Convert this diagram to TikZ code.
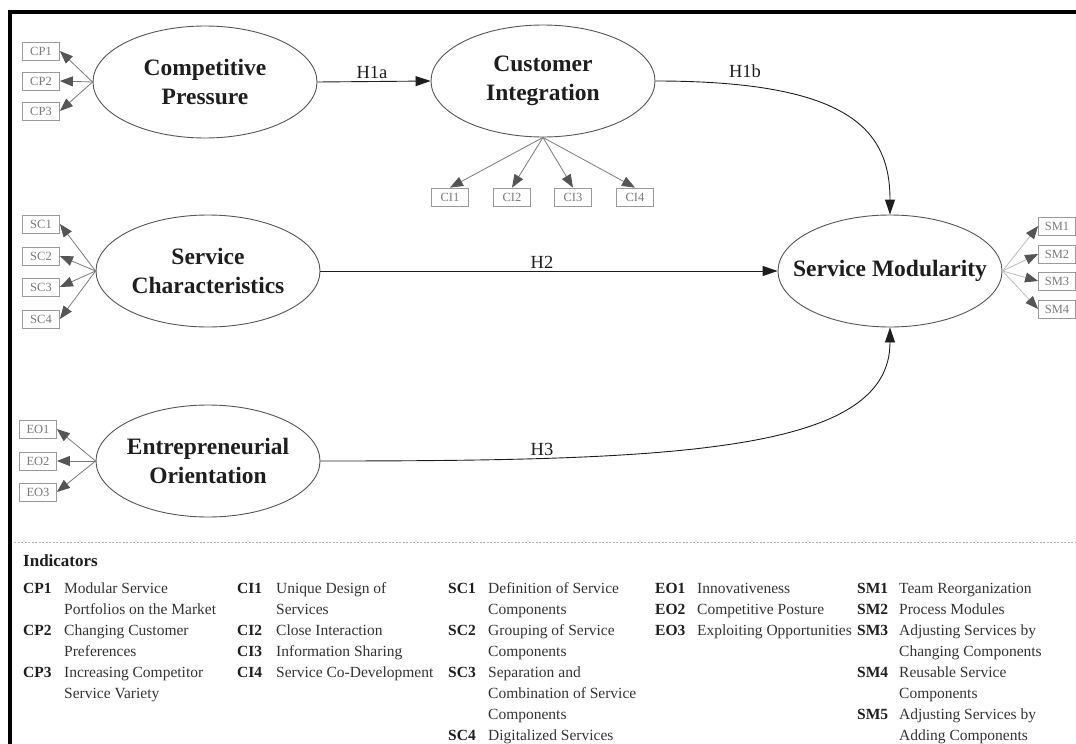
\documentclass[tikz,border=0pt]{standalone}
\usepackage{fontspec}
\setmainfont{Liberation Serif}
\usetikzlibrary{shapes.geometric,arrows.meta}
\definecolor{ink}{HTML}{1E1E1E}
\definecolor{desc}{HTML}{333333}
\definecolor{ellgray}{HTML}{555555}
\definecolor{boxgray}{HTML}{9A9A9A}
\definecolor{boxtext}{HTML}{7A7A7A}
\definecolor{loadgray}{HTML}{7A7A7A}
\definecolor{loadlight}{HTML}{BBBBBB}
\definecolor{tipgray}{HTML}{555555}
\definecolor{sepgray}{HTML}{B0B0B0}
\begin{document}
\begin{tikzpicture}[x=1pt,y=-1pt,
  latent/.style={draw=ellgray, line width=0.9pt, ellipse, minimum width=224pt, minimum height=112pt, inner sep=0pt},
  latlab/.style={font=\fontsize{23.5}{29}\selectfont\bfseries, text=ink, align=center, inner sep=0pt},
  indbox/.style={draw=boxgray, line width=0.8pt, minimum width=37pt, minimum height=18pt, inner sep=0pt, font=\fontsize{12.5}{13}\selectfont, text=boxtext},
  load/.style={draw=loadgray, line width=0.8pt, -{Triangle[length=13pt,width=10pt,color=tipgray]}},
  loadsm/.style={load, draw=loadlight},
  hyp/.style={draw=ink, line width=0.9pt, -{Triangle[length=15pt,width=10pt]}},
  hyplab/.style={font=\fontsize{18.5}{20}\selectfont, text=ink, inner sep=0pt},
  keytxt/.style={anchor=base west, inner sep=0pt, font=\fontsize{15.5}{21}\selectfont\bfseries, text=ink},
  desctxt/.style={anchor=base west, inner sep=0pt, font=\fontsize{15.5}{21}\selectfont, text=desc},
  sepline/.style={draw=sepgray, line width=0.8pt, dash pattern=on 2pt off 1.5pt}
]
\useasboundingbox (0,0) rectangle (1076,744);

% frame
\draw[line width=4pt] (9.5,744) -- (9.5,12) -- (1076,12);

% latent constructs
\node[latent] (CP) at (205,82) {};
\node[latlab] (CPt) at (CP) {Competitive\\Pressure};
\node[latent] (CI) at (543,81) {};
\node[latlab] (CIt) at (CI) {Customer\\Integration};
\node[latent] (SC) at (208,271) {};
\node[latlab] (SCt) at (SC) {Service\\Characteristics};
\node[latent] (EO) at (208,461) {};
\node[latlab] (EOt) at (EO) {Entrepreneurial\\Orientation};
\node[latent] (SM) at (890,271) {};
\node[latlab] (SMt) at (SM) {Service Modularity};

% indicator boxes
\node[indbox] (cp1) at (41,51) {CP1};
\node[indbox] (cp2) at (41,81) {CP2};
\node[indbox] (cp3) at (41,111) {CP3};
\node[indbox] (ci1) at (450,197) {CI1};
\node[indbox] (ci2) at (512,197) {CI2};
\node[indbox] (ci3) at (573,197) {CI3};
\node[indbox] (ci4) at (635,197) {CI4};
\node[indbox] (sc1) at (41,224) {SC1};
\node[indbox] (sc2) at (41,256) {SC2};
\node[indbox] (sc3) at (41,287) {SC3};
\node[indbox] (sc4) at (41,319) {SC4};
\node[indbox] (eo1) at (38,429) {EO1};
\node[indbox] (eo2) at (38,461) {EO2};
\node[indbox] (eo3) at (38,492) {EO3};
\node[indbox] (sm1) at (1057,226) {SM1};
\node[indbox] (sm2) at (1057,254) {SM2};
\node[indbox] (sm3) at (1057,281) {SM3};
\node[indbox] (sm4) at (1057,309) {SM4};

% loadings
\foreach \b in {cp1,cp2,cp3} \draw[load] (CP.west) -- (\b.east);
\foreach \b in {sc1,sc2,sc3,sc4} \draw[load] (SC.west) -- (\b.east);
\foreach \b in {eo1,eo2,eo3} \draw[load] (EO.west) -- (\b.east);
\foreach \b in {ci1,ci2,ci3,ci4} \draw[load] (CI.south) -- (\b.north);
\foreach \b in {sm1,sm2,sm3,sm4} \draw[loadsm] (SM.east) -- (\b.west);

% hypotheses
\draw[hyp] (CP.east) -- (CI.west);
\draw[hyp] (CI.east) .. controls (850,81) and (890,130) .. (SM.north);
\draw[hyp] (SC.east) -- (SM.west);
\draw[hyp] (EO.east) .. controls (680,461) and (890,452) .. (SM.south);
\node[hyplab] (h1a) at (372,72) {H1a};
\node[hyplab] (h1b) at (745,71) {H1b};
\node[hyplab] (h2) at (542,262) {H2};
\node[hyplab] (h3) at (542,449) {H3};

% legend
\draw[sepline] (14,542) -- (1076,542);
\node[anchor=base west, inner sep=0pt, font=\fontsize{17}{20}\selectfont\bfseries, text=ink] (indhead) at (23,566) {Indicators};

\foreach \k/\t [count=\i from 0] in {CP1/Modular Service, /Portfolios on the Market, CP2/Changing Customer, /Preferences, CP3/Increasing Competitor, /Service Variety}{
  \node[keytxt] (cpk\i) at (23,{593+21*\i}) {\k};
  \node[desctxt] (cpd\i) at (64,{593+21*\i}) {\t};
}
\foreach \k/\t [count=\i from 0] in {CI1/Unique Design of, /Services, CI2/Close Interaction, CI3/Information Sharing, CI4/Service Co-Development}{
  \node[keytxt] (cik\i) at (237,{593+21*\i}) {\k};
  \node[desctxt] (cid\i) at (276,{593+21*\i}) {\t};
}
\foreach \k/\t [count=\i from 0] in {SC1/Definition of Service, /Components, SC2/Grouping of Service, /Components, SC3/Separation and, /Combination of Service, /Components, SC4/Digitalized Services}{
  \node[keytxt] (sck\i) at (448,{593+21*\i}) {\k};
  \node[desctxt] (scd\i) at (488,{593+21*\i}) {\t};
}
\foreach \k/\t [count=\i from 0] in {EO1/Innovativeness, EO2/Competitive Posture, EO3/Exploiting Opportunities}{
  \node[keytxt] (eok\i) at (655,{593+21*\i}) {\k};
  \node[desctxt] (eod\i) at (697,{593+21*\i}) {\t};
}
\foreach \k/\t [count=\i from 0] in {SM1/Team Reorganization, SM2/Process Modules, SM3/Adjusting Services by, /Changing Components, SM4/Reusable Service, /Components, SM5/Adjusting Services by, /Adding Components}{
  \node[keytxt] (smk\i) at (857,{593+21*\i}) {\k};
  \node[desctxt] (smd\i) at (899,{593+21*\i}) {\t};
}
\end{tikzpicture}
\end{document}
